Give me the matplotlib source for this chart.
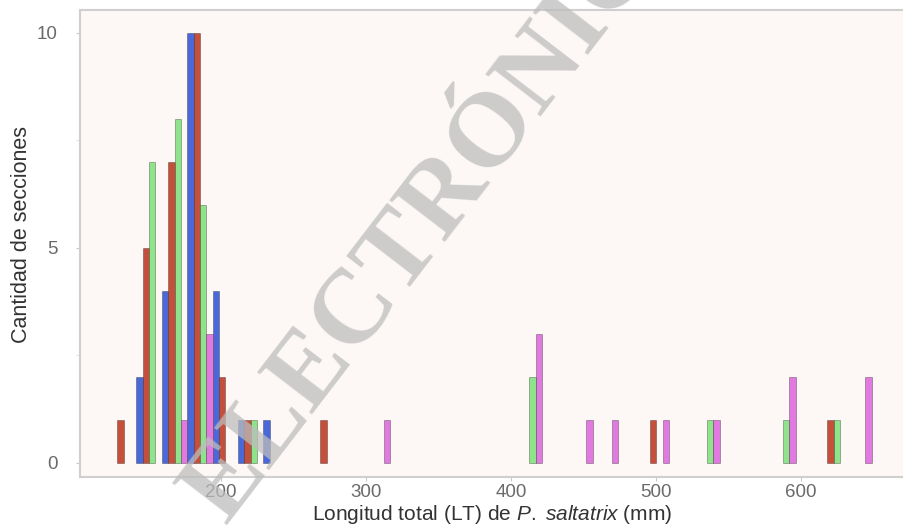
import numpy as np
import matplotlib
matplotlib.use("Agg")
import matplotlib.pyplot as plt

plt.rcParams['font.family'] = ['Liberation Sans', 'DejaVu Sans']
plt.rcParams['mathtext.fontset'] = 'custom'
plt.rcParams['mathtext.it'] = 'Liberation Sans:italic'
plt.rcParams['mathtext.rm'] = 'Liberation Sans'

# longitud total (mm): extremos de la muestra y numero de clases del histograma
lt_min = 133.0
lt_max = 640.0
n_clases = 30

# cantidad de secciones por clase (30 clases) para cada grupo
azul = [0, 2, 4, 10, 4, 1, 1, 0, 0, 0,
        0, 0, 0, 0, 0, 0, 0, 0, 0, 0,
        0, 0, 0, 0, 0, 0, 0, 0, 0, 0]
rojo = [1, 5, 7, 10, 2, 1, 0, 0, 1, 0,
        0, 0, 0, 0, 0, 0, 0, 0, 0, 0,
        0, 1, 0, 0, 0, 0, 0, 0, 1, 0]
verde = [0, 7, 8, 6, 0, 1, 0, 0, 0, 0,
         0, 0, 0, 0, 0, 0, 2, 0, 0, 0,
         0, 0, 0, 1, 0, 0, 1, 0, 1, 0]
violeta = [0, 0, 1, 3, 0, 0, 0, 0, 0, 0,
           1, 0, 0, 0, 0, 0, 3, 0, 1, 1,
           0, 1, 0, 1, 0, 0, 2, 0, 0, 2]

series = [azul, rojo, verde, violeta]
colores = ['#4a68d8', '#c4503c', '#8fe38a', '#e07ae0']

ancho = (lt_max - lt_min) / (n_clases - 1)
centros = lt_min + ancho * np.arange(n_clases)

fig = plt.figure(figsize=(9.04, 5.32), dpi=100)
ax = fig.add_axes([80 / 904, 1 - 477 / 532, 1 - 80 / 904, (477 - 10) / 532])
ax.set_facecolor('#fdf8f6')

# barras lado a lado dentro de cada clase
sub = ancho / 4
for j, (vals, col) in enumerate(zip(series, colores)):
    vals = np.array(vals)
    m = vals > 0
    x = centros[m] + (j - 1.5) * sub
    ax.bar(x, vals[m], width=sub, color=col, edgecolor='#00000055',
           linewidth=0.6, zorder=2)

ax.set_xlim(102.8, 671)
ax.set_ylim(-0.33, 10.53)
ax.set_xticks([200, 300, 400, 500, 600])
ax.set_yticks([0, 5, 10])
ax.set_yticks([2.5, 7.5], minor=True)
ax.tick_params(axis='both', colors='#c8c8c8', labelcolor='#6a6a6a',
               labelsize=13.5, length=3, width=0.8)
ax.tick_params(axis='y', which='minor', colors='#d8d8d8', length=3)
ax.tick_params(axis='y', pad=13)
ax.tick_params(axis='x', pad=2)

for s in ['left', 'bottom', 'top']:
    ax.spines[s].set_color('#cfcfcf')
    ax.spines[s].set_linewidth(1.5)
ax.spines['right'].set_visible(False)

ax.set_ylabel('Cantidad de secciones', fontsize=15.5, color='#333333')
ax.yaxis.set_label_coords(-0.058, 0.52)
ax.set_xlabel(r'Longitud total (LT) de $\it{P.}$ $\it{saltatrix}$ (mm)',
              fontsize=15, color='#333333', labelpad=0)
ax.xaxis.set_label_coords(0.5, -0.056)

# marca de agua
fig.text(0.492, 0.627, 'ELECTRÓNICA', fontsize=76, fontfamily='Liberation Serif',
         fontweight='bold', color='#bdbdbd', alpha=0.75, rotation=52.5,
         ha='center', va='center', zorder=10)

fig.savefig('out.png', dpi=100)
